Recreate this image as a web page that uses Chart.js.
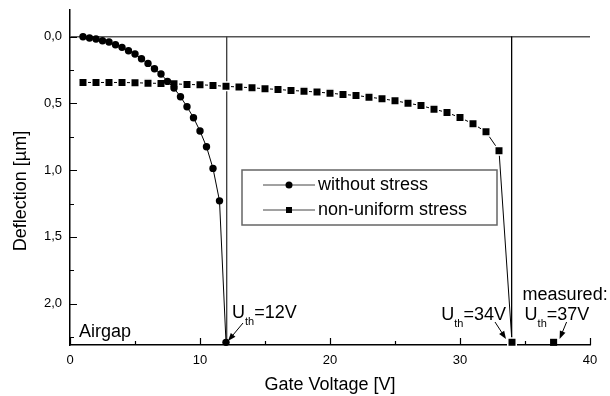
<!DOCTYPE html>
<html>
<head>
<meta charset="utf-8">
<script src="https://cdn.jsdelivr.net/npm/chart.js@4"></script>
<style>
    html, body { margin: 0; padding: 0; background: #fff; }
</style>
</head>
<body>
<canvas id="chart-deflection" width="610" height="396"></canvas>
<script>
// without stress (circles), 0.5 V steps
const voltage_plain = [1, 1.5, 2, 2.5, 3, 3.5, 4, 4.5, 5, 5.5, 6, 6.5, 7, 7.5, 8, 8.5, 9, 9.5, 10, 10.5, 11, 11.5, 12];
const deflection_plain = [0.00, 0.01, 0.017, 0.03, 0.04, 0.06, 0.08, 0.105, 0.13, 0.165, 0.2, 0.24, 0.28, 0.335, 0.385, 0.45, 0.525, 0.607, 0.707, 0.825, 0.987, 1.23, 2.29];

// non-uniform stress (squares), 1 V steps
const voltage_stress = [1, 2, 3, 4, 5, 6, 7, 8, 9, 10, 11, 12, 13, 14, 15, 16, 17, 18, 19, 20, 21, 22, 23, 24, 25, 26, 27, 28, 29, 30, 31, 32, 33, 34];
const deflection_stress = [0.343, 0.343, 0.343, 0.343, 0.345, 0.348, 0.35, 0.353, 0.358, 0.36, 0.365, 0.372, 0.377, 0.383, 0.39, 0.395, 0.403, 0.408, 0.415, 0.423, 0.433, 0.44, 0.453, 0.465, 0.48, 0.498, 0.516, 0.543, 0.568, 0.606, 0.653, 0.713, 0.854, 2.29];

const measured_voltage = [37.2];
const measured_deflection = [2.29];

const threshold_voltage = [12.05, 33.97];
const threshold_color = ['#444', '#000'];

const x_ticks = [0, 10, 20, 30, 40];
const x_minor = [5, 15, 25, 35];
const y_ticks = [0, 0.5, 1.0, 1.5, 2.0];
const y_minor = [0.25, 0.75, 1.25, 1.75, 2.25];

const x_min = 0, x_max = 40;
const y_min = -0.2, y_max = 2.31;

Chart.defaults.font.family = "'Liberation Sans', Arial, sans-serif";
Chart.defaults.color = '#000';

const to_points = (xs, ys) => xs.map((v, i) => ({x: v, y: ys[i]}));

const data_deflection = {
    datasets: [{
        label: 'without stress',
        data: to_points(voltage_plain, deflection_plain),
        showLine: true,
        borderColor: '#000',
        borderWidth: 1,
        pointStyle: 'circle',
        pointRadius: 3.7,
        pointBackgroundColor: '#000',
        pointBorderWidth: 0,
        clip: false,
    },
    {
        label: 'non-uniform stress',
        data: to_points(voltage_stress, deflection_stress),
        showLine: true,
        borderColor: '#000',
        borderWidth: 1,
        pointStyle: 'rect',
        pointRadius: 6,
        pointBackgroundColor: '#000',
        pointBorderColor: '#fff', // gap between line and symbol
        pointBorderWidth: 1.5,
        clip: false,
    },
    {
        label: 'measured',
        data: to_points(measured_voltage, measured_deflection),
        showLine: false,
        pointStyle: 'rect',
        pointRadius: 5,
        pointBackgroundColor: '#000',
        pointBorderWidth: 0,
        clip: false,
    },
    ...threshold_voltage.map((v, i) => ({
        label: 'threshold',
        data: [{x: v, y: 0}, {x: v, y: y_max}],
        showLine: true,
        borderColor: threshold_color[i],
        borderWidth: 1,
        pointRadius: 0,
    })),
    {
        label: 'zero',
        data: [{x: x_min, y: 0}, {x: x_max, y: 0}],
        showLine: true,
        borderColor: '#555',
        borderWidth: 1.5,
        pointRadius: 0,
    }]
};

function drawUth(ctx, left, base, value) {
    ctx.font = '18px "Liberation Sans", Arial';
    ctx.fillText('U', left, base);
    let w = ctx.measureText('U').width;
    ctx.font = '11px "Liberation Sans", Arial';
    ctx.fillText('th', left + w, base + 7);
    w += ctx.measureText('th').width;
    ctx.font = '18px "Liberation Sans", Arial';
    ctx.fillText('=' + value, left + w, base);
    w += ctx.measureText('=' + value).width;
    return w;
}

function drawArrow(ctx, x0, y0, x1, y1) {
    const a = Math.atan2(y1 - y0, x1 - x0);
    ctx.beginPath();
    ctx.moveTo(x0, y0);
    ctx.lineTo(x1 - 6 * Math.cos(a), y1 - 6 * Math.sin(a));
    ctx.stroke();
    ctx.beginPath();
    ctx.moveTo(x1, y1);
    ctx.lineTo(x1 - 8 * Math.cos(a) + 3 * Math.sin(a), y1 - 8 * Math.sin(a) - 3 * Math.cos(a));
    ctx.lineTo(x1 - 8 * Math.cos(a) - 3 * Math.sin(a), y1 - 8 * Math.sin(a) + 3 * Math.cos(a));
    ctx.closePath();
    ctx.fill();
}

const extras_plugin = {
    id: 'extras',
    afterDraw(chart) {
        const {ctx, chartArea, scales: {x, y}} = chart;
        ctx.save();
        ctx.strokeStyle = '#000';
        ctx.fillStyle = '#000';
        ctx.lineWidth = 1.2;

        // inward ticks
        ctx.beginPath();
        x_ticks.concat(x_minor).forEach(v => {
            const px = Math.round(x.getPixelForValue(v)) + 0.5;
            const len = x_ticks.includes(v) ? 7 : 4;
            ctx.moveTo(px, chartArea.bottom);
            ctx.lineTo(px, chartArea.bottom - len);
        });
        y_ticks.concat(y_minor).forEach(v => {
            const py = Math.round(y.getPixelForValue(v)) + 0.5;
            const len = y_ticks.includes(v) ? 7 : 4;
            ctx.moveTo(chartArea.left, py);
            ctx.lineTo(chartArea.left + len, py);
        });
        ctx.stroke();

        // y title
        ctx.save();
        ctx.translate(21, 191);
        ctx.rotate(-Math.PI / 2);
        ctx.font = '18px "Liberation Sans", Arial';
        ctx.textAlign = 'center';
        ctx.textBaseline = 'middle';
        ctx.fillText('Deflection [\u00B5m]', 0, 0);
        ctx.restore();

        // legend box
        const lx = chartArea.left + 172, ly = chartArea.top + 160;
        ctx.strokeStyle = '#666';
        ctx.lineWidth = 1.5;
        ctx.strokeRect(lx, ly, 255, 55);
        const rows = [
            {label: chart.data.datasets[0].label, style: 'circle', dy: 15},
            {label: chart.data.datasets[1].label, style: 'rect', dy: 40},
        ];
        rows.forEach(r => {
            const cy = ly + r.dy;
            ctx.strokeStyle = '#444';
            ctx.lineWidth = 1;
            ctx.beginPath();
            ctx.moveTo(lx + 21, cy);
            ctx.lineTo(lx + 73, cy);
            ctx.stroke();
            ctx.beginPath();
            if (r.style === 'circle') {
                ctx.arc(lx + 47, cy, 3.5, 0, Math.PI * 2);
            } else {
                ctx.rect(lx + 44, cy - 3, 6, 6);
            }
            ctx.fill();
            ctx.font = '18px "Liberation Sans", Arial';
            ctx.textBaseline = 'middle';
            ctx.fillText(r.label, lx + 76, cy);
        });

        // annotations
        ctx.textBaseline = 'alphabetic';
        ctx.strokeStyle = '#000';
        ctx.lineWidth = 1;
        const bottom = chartArea.bottom;
        ctx.font = '18px "Liberation Sans", Arial';
        ctx.fillText('Airgap', chartArea.left + 9, bottom - 8);

        // 12 V
        let tx = x.getPixelForValue(voltage_plain[voltage_plain.length - 1]) + 2;
        let ty = bottom - 4;
        drawUth(ctx, tx + 4, bottom - 27, '12V');
        drawArrow(ctx, tx + 15, ty - 18, tx, ty);

        // 34 V
        tx = x.getPixelForValue(voltage_stress[voltage_stress.length - 1]) - 6;
        ty = bottom - 6;
        ctx.save();
        ctx.globalAlpha = 0;
        const w34 = drawUth(ctx, 0, 0, '34V');
        ctx.restore();
        drawUth(ctx, tx - w34, bottom - 25, '34V');
        drawArrow(ctx, tx - 11, ty - 17, tx, ty);

        // measured 37 V
        const mx = x.getPixelForValue(measured_voltage[0]);
        tx = mx + 6;
        ctx.font = '18px "Liberation Sans", Arial';
        ctx.fillText('measured:', mx - 31, bottom - 45);
        drawUth(ctx, mx - 29, bottom - 25, '37V');
        drawArrow(ctx, tx + 7, ty - 17, tx, ty);

        ctx.restore();
    }
};

const config_deflection = {
    type: 'scatter',
    data: data_deflection,
    options: {
        responsive: false,
        animation: false,
        events: [],
        layout: {
            padding: {top: 10, right: 20, left: 0, bottom: 0}
        },
        plugins: {
            legend: {display: false},
            tooltip: {enabled: false},
        },
        scales: {
            x: {
                type: 'linear',
                min: x_min,
                max: x_max,
                afterFit: (s) => {
                    s.height = 51;
                    s.paddingLeft = 0;
                    s.paddingRight = 0;
                },
                afterBuildTicks: (s) => { s.ticks = x_ticks.map(v => ({value: v})); },
                ticks: {
                    font: {size: 13},
                    padding: 8,
                    maxRotation: 0,
                    callback: (v) => v,
                },
                grid: {display: false, drawTicks: false},
                border: {display: true, color: '#000', width: 1.5},
                title: {
                    display: true,
                    text: 'Gate Voltage [V]',
                    font: {size: 18},
                    padding: {top: 0, bottom: 0},
                },
            },
            y: {
                type: 'linear',
                reverse: true,
                min: y_min,
                max: y_max,
                afterFit: (s) => {
                    s.width = 70;
                    s.paddingTop = 0;
                    s.paddingBottom = 0;
                },
                afterBuildTicks: (s) => { s.ticks = y_ticks.map(v => ({value: v})); },
                ticks: {
                    font: {size: 13},
                    padding: 8,
                    callback: (v) => v.toFixed(1).replace('.', ','),
                },
                grid: {display: false, drawTicks: false},
                border: {display: true, color: '#000', width: 1.5},
            }
        }
    },
    plugins: [extras_plugin]
};

var chart_deflection = new Chart(
    document.getElementById('chart-deflection'),
    config_deflection
);
</script>
</body>
</html>
